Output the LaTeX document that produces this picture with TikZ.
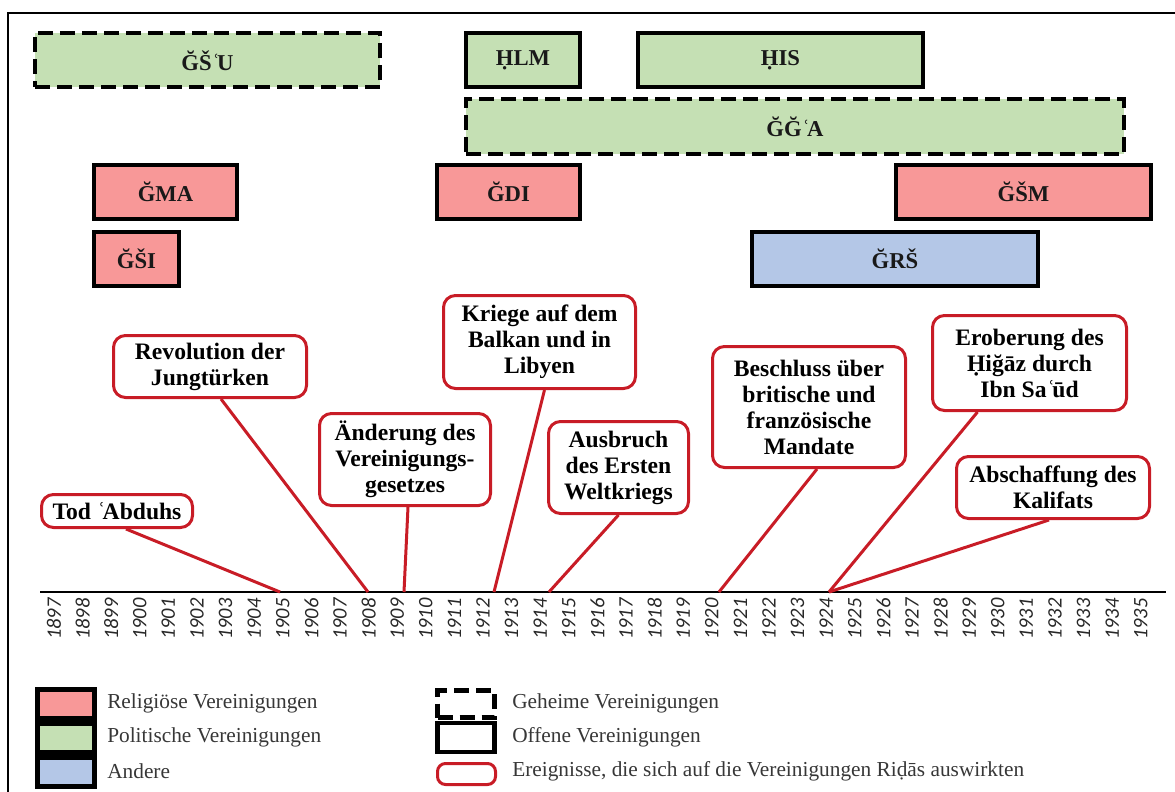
\documentclass[tikz,border=0pt]{standalone}
\usepackage{fontspec}
\setmainfont{Liberation Serif}
\newfontfamily\yearfamily{Carlito}

\definecolor{relig}{RGB}{248,152,152}
\definecolor{polit}{RGB}{197,224,180}
\definecolor{other}{RGB}{180,199,231}
\definecolor{evred}{RGB}{200,28,38}
\definecolor{yeargray}{RGB}{40,40,40}
\definecolor{leggray}{RGB}{55,55,55}
\definecolor{labelink}{RGB}{25,25,25}

% use the font's own glyph when present, otherwise build it
\newcommand\glyphor[2]{\iffontchar\font"#1\relax\symbol{"#1}\else#2\fi}
\newcommand\ain{\kern0.03em\glyphor{02BF}{‘}\kern-0.12em\relax}
\newcommand\Hdot{\glyphor{1E24}{\oalign{H\crcr\hidewidth.\hidewidth}}}
\newcommand\dunder{\glyphor{1E0D}{\oalign{d\crcr\hidewidth.\hidewidth}}}

\newcommand\orgfont{\fontsize{17}{18}\selectfont\bfseries}
\newcommand\evfont{\fontsize{17.7}{19.5}\selectfont\bfseries}
\newcommand\legfont{\fontsize{16}{18}\selectfont}
\newcommand\yrfont{\yearfamily\itshape\fontsize{15.4}{16}\selectfont}

\begin{document}
\begin{tikzpicture}[x=0.75pt,y=-0.75pt,
  org/.style={draw=black,line width=3pt,minimum height=40.5pt,inner sep=0pt,
    font=\orgfont,text=labelink},
  secret/.style={dash pattern=on 11.25pt off 5.25pt},
  event/.style={draw=evred,line width=2.25pt,rounded corners=9pt,fill=white,
    align=center,inner sep=0pt,font=\evfont,text=black},
  link/.style={draw=evred,line width=2.25pt},
  year/.style={rotate=90,anchor=east,inner sep=0pt,font=\yrfont,text=yeargray},
  legbox/.style={draw=black,line width=3.4pt,minimum width=42.75pt,inner sep=0pt},
  legtext/.style={anchor=west,inner sep=0pt,font=\legfont,text=leggray}]
\useasboundingbox (0,0) rectangle (1175,792);

% frame
\draw[line width=1.5pt] (8,792) -- (8,13) -- (1175,13);

% associations
\node[org,secret,fill=polit,minimum width=258.75pt] (gsu) at (207.5,60.5) {ĞŠ\ain U};
\node[org,fill=polit,minimum width=85.5pt] (hlm) at (523,60.5) {\Hdot LM};
\node[org,fill=polit,minimum width=213.75pt] (his) at (780.5,60.5) {\Hdot IS};
\node[org,secret,fill=polit,minimum width=493.5pt] (gga) at (795,126.5) {ĞĞ\ain A};
\node[org,fill=relig,minimum width=107.25pt] (gma) at (165.5,192) {ĞMA};
\node[org,fill=relig,minimum width=107.25pt] (gdi) at (508.5,192) {ĞDI};
\node[org,fill=relig,minimum width=191.25pt] (gsm) at (1023.5,192) {ĞŠM};
\node[org,fill=relig,minimum width=63.75pt] (gsi) at (136.5,258.5) {ĞŠI};
\node[org,fill=other,minimum width=214.5pt] (grs) at (895,258.5) {ĞRŠ};

% time axis
\coordinate (axisL) at (40,592);
\coordinate (axisR) at (1166,592);
\draw[line width=1.1pt] (axisL) -- (axisR);
\foreach \yr in {1897,1898,...,1935}
  \node[year] (yr\yr) at ({54+28.6*(\yr-1897)},598) {\yr};

\coordinate (t1905) at (280,592);
\coordinate (t1908) at (368,592);
\coordinate (t1909) at (404,592);
\coordinate (t1912) at (494,592);
\coordinate (t1914) at (549,592);
\coordinate (t1920) at (719,592);
\coordinate (t1924) at (829,592);

% events
\node[event,minimum width=113.25pt,minimum height=24.75pt] (tod) at (117,511) {Tod \ain Abduhs};
\node[event,minimum width=144.75pt,minimum height=46.5pt] (rev) at (210,366.5) {Revolution der\\Jungtürken};
\node[event,minimum width=128.25pt,minimum height=69pt] (law) at (405,459.5) {Änderung des\\Vereinigungs-\\gesetzes};
\node[event,minimum width=144pt,minimum height=69.75pt] (war) at (539.5,342) {Kriege auf dem\\Balkan und in\\Libyen};
\node[event,minimum width=105pt,minimum height=69pt] (ww) at (618.5,467.5) {Ausbruch\\des Ersten\\Weltkriegs};
\node[event,minimum width=144.75pt,minimum height=90.75pt] (man) at (809,407) {Beschluss über\\britische und\\französische\\Mandate};
\node[event,minimum width=145.5pt,minimum height=71.25pt] (hig) at (1029.5,363) {Eroberung des\\\Hdot iğāz durch\\Ibn Sa\ain ūd};
\node[event,minimum width=144.75pt,minimum height=46.5pt] (kal) at (1053,487.5) {Abschaffung des\\Kalifats};

\draw[link] ([xshift=6.75pt]tod.south) -- (t1905);
\draw[link] ([xshift=8.25pt]rev.south) -- (t1908);
\draw[link] ([xshift=2.25pt]law.south) -- (t1909);
\draw[link] ([xshift=3.75pt]war.south) -- (t1912);
\draw[link] (ww.south) -- (t1914);
\draw[link] ([xshift=6pt]man.south) -- (t1920);
\draw[link] ([xshift=-39pt]hig.south) -- (t1924);
\draw[link] ([xshift=-3pt]kal.south) -- (t1924);

% legend
\node[legbox,fill=relig,minimum height=21.75pt] (lrel) at (66,704) {};
\node[legbox,fill=polit,minimum height=21.75pt] (lpol) at (66,738) {};
\node[legbox,fill=other,minimum height=21.75pt] (loth) at (66,772) {};
\node[legtext] (trel) at (107,703) {Religiöse Vereinigungen};
\node[legtext] (tpol) at (107,737) {Politische Vereinigungen};
\node[legtext] (toth) at (107,771) {Andere};

\node[legbox,secret,fill=white,minimum height=20.25pt] (lsec) at (466,704) {};
\node[legbox,fill=white,minimum height=21.75pt] (lopn) at (466,737.5) {};
\node[draw=evred,line width=2.25pt,rounded corners=6pt,minimum width=43.5pt,
  minimum height=15.75pt,inner sep=0pt] (lev) at (466.5,774) {};
\node[legtext] (tsec) at (512,703) {Geheime Vereinigungen};
\node[legtext] (topn) at (512,737) {Offene Vereinigungen};
\node[legtext] (tev) at (512,771) {Ereignisse, die sich auf die Vereinigungen Ri\dunder ās auswirkten};
\end{tikzpicture}
\end{document}
